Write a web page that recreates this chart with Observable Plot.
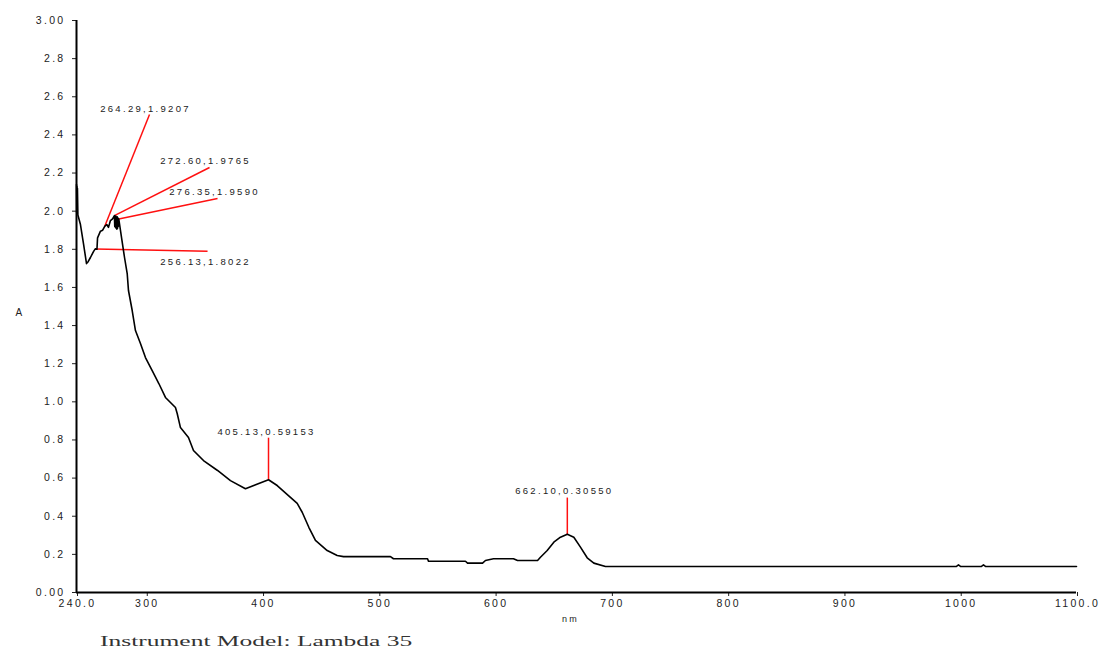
<!DOCTYPE html>
<html>
<head>
<meta charset="utf-8">
<script src="https://cdn.jsdelivr.net/npm/d3@7"></script>
<script src="https://cdn.jsdelivr.net/npm/@observablehq/plot@0.6"></script>
<style>
  html, body { margin: 0; padding: 0; background: #fff; }
  #wrap { position: relative; width: 1101px; height: 657px; }
  #caption {
    position: absolute; left: 100px; top: 633px;
    font-family: "Liberation Serif", "DejaVu Serif", serif;
    font-size: 15px; color: #333; white-space: nowrap;
    transform: scaleX(1.7); transform-origin: left center;
  }
</style>
</head>
<body>
<div id="wrap">
  <div id="chart"></div>
  <div id="caption">Instrument Model: Lambda 35</div>
</div>
<script>
// Absorbance spectrum (wavelength in nm, absorbance A)
const wavelength = [
  240.0, 240.2, 240.4, 240.6, 240.8, 241.2, 243.4, 246.0, 248.6, 250.0,
  252.0, 254.6, 256.13, 257.6, 258.1, 260.6, 262.5, 264.29, 266.0, 267.5,
  269.2, 271.0, 272.6, 272.9, 273.2, 273.5, 273.8, 274.1, 274.4, 274.7,
  275.0, 275.3, 275.6, 275.9, 276.35, 278.7,
  281.3, 283.6, 284.7, 287.9, 290.7, 295.0, 299.3, 305.1, 310.8, 316.5,
  325.1, 326.6, 329.4, 336.3, 340.6, 349.2, 361.3, 372.4, 385.3, 405.13,
  412.6, 429.8, 434.1, 439.8, 445.5, 455.6, 464.2, 469.6, 510.0, 512.6,
  541.9, 542.7, 574.5, 576.3, 589.2, 591.7, 598.6, 615.8, 619.3, 636.5,
  639.0, 644.8, 650.5, 656.2, 662.10, 667.7, 673.4, 679.2, 684.9, 694.9,
  996.5, 998.5, 1000.5, 1018.0, 1020.0, 1022.0, 1100.0
];
const absorbance = [
  2.14, 1.99, 2.13, 1.99, 2.12, 1.98, 1.93, 1.83, 1.725, 1.735,
  1.757, 1.788, 1.8022, 1.80, 1.86, 1.895, 1.90, 1.9207, 1.93, 1.915,
  1.951, 1.96, 1.9765, 1.92, 1.975, 1.915, 1.975, 1.91, 1.97, 1.905,
  1.97, 1.91, 1.965, 1.92, 1.959, 1.862,
  1.757, 1.673, 1.584, 1.479, 1.374, 1.306, 1.232, 1.164, 1.096, 1.023,
  0.970, 0.939, 0.865, 0.813, 0.745, 0.692, 0.640, 0.587, 0.544, 0.59153,
  0.561, 0.467, 0.421, 0.342, 0.273, 0.220, 0.194, 0.188, 0.188, 0.177,
  0.177, 0.164, 0.164, 0.154, 0.154, 0.168, 0.177, 0.177, 0.168, 0.168,
  0.185, 0.220, 0.264, 0.290, 0.3055, 0.290, 0.238, 0.182, 0.154, 0.136,
  0.136, 0.145, 0.136, 0.136, 0.145, 0.136, 0.136
];

// Picked peaks
const peakNm = [264.29, 272.60, 276.35, 256.13, 405.13, 662.10];
const peakA = [1.9207, 1.9765, 1.9590, 1.8022, 0.59153, 0.30550];
const peakLabels = ["264.29,1.9207", "272.60,1.9765", "276.35,1.9590", "256.13,1.8022", "405.13,0.59153", "662.10,0.30550"];

// Axis ticks and their printed labels
const yTicks = [0, 0.2, 0.4, 0.6, 0.8, 1.0, 1.2, 1.4, 1.6, 1.8, 2.0, 2.2, 2.4, 2.6, 2.8, 3.0];
const yTickLabels = ["0.00", "0.2", "0.4", "0.6", "0.8", "1.0", "1.2", "1.4", "1.6", "1.8", "2.0", "2.2", "2.4", "2.6", "2.8", "3.00"];
const xTicks = [240, 300, 400, 500, 600, 700, 800, 900, 1000, 1100];
const xTickLabels = ["240.0", "300", "400", "500", "600", "700", "800", "900", "1000", "1100.0"];

// Where each peak's leader line ends (in nm / A) and how its text sits there
const callouts = [
  {toNm: 302.8, toA: 2.507, dx: -4, dy: -6},
  {toNm: 354.4, toA: 2.229, dx: -4, dy: -7},
  {toNm: 361.3, toA: 2.066, dx: -3, dy: -7},
  {toNm: 352.7, toA: 1.790, dx: -2, dy: 11},
  {toNm: 405.13, toA: 0.812, dx: -2, dy: -6},
  {toNm: 662.10, toA: 0.498, dx: -3, dy: -7}
];

const spectrum = wavelength.map((w, i) => ({nm: w, a: absorbance[i]}));
const yLabel = new Map(yTicks.map((t, i) => [t, yTickLabels[i]]));
const xLabel = new Map(xTicks.map((t, i) => [t, xTickLabels[i]]));
const peakIdx = peakNm.map((_, i) => i);

const chart = Plot.plot({
  width: 1101,
  height: 630,
  marginLeft: 76,
  marginRight: 25,
  marginTop: 20,
  marginBottom: 38,
  style: {
    fontFamily: "'Liberation Sans', Arial, sans-serif",
    fontSize: "10.5px",
    letterSpacing: "2.3px",
    background: "#fff",
    color: "#222",
    overflow: "visible"
  },
  x: {domain: [240, 1100], axis: null},
  y: {domain: [0, 3], axis: null},
  marks: [
    Plot.axisY(yTicks, {
      anchor: "left", tickSize: 4, tickPadding: 7, label: null,
      tickFormat: d => yLabel.get(d), color: "#222"
    }),
    Plot.axisX(xTicks, {
      anchor: "bottom", tickSize: 4, tickPadding: 3, label: null, dx: 1,
      tickFormat: d => xLabel.get(d), color: "#222"
    }),
    Plot.ruleX([240], {stroke: "#000", strokeWidth: 2}),
    Plot.ruleY([0], {stroke: "#000", strokeWidth: 2}),
    Plot.text(["A"], {frameAnchor: "left", dx: -61, dy: 6, fontSize: 10, fill: "#222"}),
    Plot.text(["nm"], {frameAnchor: "bottom", dx: -6, dy: 29, fontSize: 9, fill: "#222"}),
    // peak leader lines
    Plot.link(peakIdx, {
      x1: i => peakNm[i], y1: i => peakA[i],
      x2: i => callouts[i].toNm, y2: i => callouts[i].toA,
      stroke: "#ff1010", strokeWidth: 1.5
    }),
    // spectrum trace
    Plot.line(spectrum, {x: "nm", y: "a", stroke: "#000", strokeWidth: 1.6, curve: "linear"}),
    // peak labels
    ...peakIdx.map(i => Plot.text([peakLabels[i]], {
      x: callouts[i].toNm, y: callouts[i].toA,
      dx: callouts[i].dx, dy: callouts[i].dy,
      fontSize: 9.5, fill: "#222", letterSpacing: "2px"
    }))
  ]
});

document.getElementById("chart").appendChild(chart);
</script>
</body>
</html>
